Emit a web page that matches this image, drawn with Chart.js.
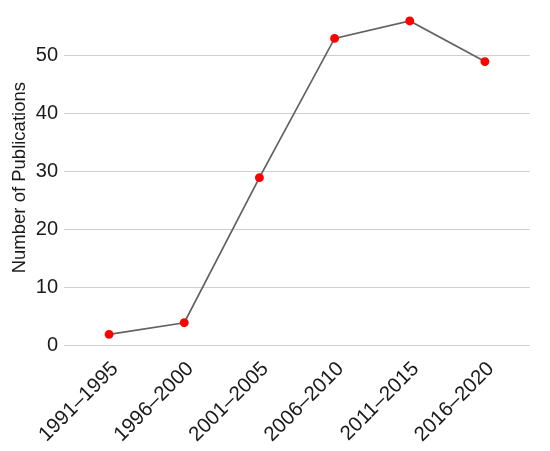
<!DOCTYPE html>
<html>
<head>
<meta charset="utf-8">
<script src="https://cdn.jsdelivr.net/npm/chart.js@4/dist/chart.umd.min.js"></script>
<style>
  html, body { margin: 0; padding: 0; background: #fff; }
  #wrap { width: 550px; height: 451px; }
</style>
</head>
<body>
<div id="wrap"><canvas id="pubChart"></canvas></div>
<script>
const periods = ['1991–1995', '1996–2000', '2001–2005', '2006–2010', '2011–2015', '2016–2020'];
const publications = [2, 4, 29, 53, 56, 49];
const yTicks = [0, 10, 20, 30, 40, 50];

Chart.defaults.font.family = '"Liberation Sans", Arial, sans-serif';

// points on a linear x scale so the side padding matches the original
const points = publications.map((v, i) => ({ x: i + 1, y: v }));

new Chart(document.getElementById('pubChart'), {
    type: 'line',
    data: {
        datasets: [{
            data: points,
            borderColor: '#626262',
            borderWidth: 1.7,
            pointBackgroundColor: '#ff0000',
            pointBorderColor: '#ff0000',
            pointRadius: 3.6,
            pointHoverRadius: 3.6,
            tension: 0
        }]
    },
    options: {
        responsive: true,
        maintainAspectRatio: false,
        animation: false,
        layout: { padding: { top: 1.5, right: 20, left: 0, bottom: 0 } },
        plugins: {
            legend: { display: false },
            tooltip: { enabled: false }
        },
        scales: {
            x: {
                type: 'linear',
                min: 0.4,
                max: 6.6,
                grid: { display: false },
                border: { display: false },
                afterBuildTicks: (scale) => {
                    scale.ticks = periods.map((_, i) => ({ value: i + 1 }));
                },
                afterFit: (scale) => { scale.height = 101; },
                ticks: {
                    autoSkip: false,
                    minRotation: 45,
                    maxRotation: 45,
                    padding: -1,
                    labelOffset: 6,
                    color: '#1a1a1a',
                    font: { size: 20.5 },
                    callback: (value) => periods[value - 1]
                }
            },
            y: {
                min: -0.7,
                max: 58.7,
                afterBuildTicks: (scale) => {
                    scale.ticks = yTicks.map(v => ({ value: v }));
                },
                afterFit: (scale) => {
                    scale.width = 64;
                    scale.paddingTop = 0;
                    scale.paddingBottom = 0;
                },
                grid: {
                    color: '#d0d0d0',
                    lineWidth: 1,
                    drawTicks: false
                },
                border: { display: false },
                ticks: {
                    padding: 6,
                    color: '#1a1a1a',
                    font: { size: 20 }
                },
                title: {
                    display: true,
                    text: 'Number of Publications',
                    color: '#1a1a1a',
                    font: { size: 18.5 },
                    padding: { top: 9, bottom: 0 }
                }
            }
        }
    }
});
</script>
</body>
</html>
